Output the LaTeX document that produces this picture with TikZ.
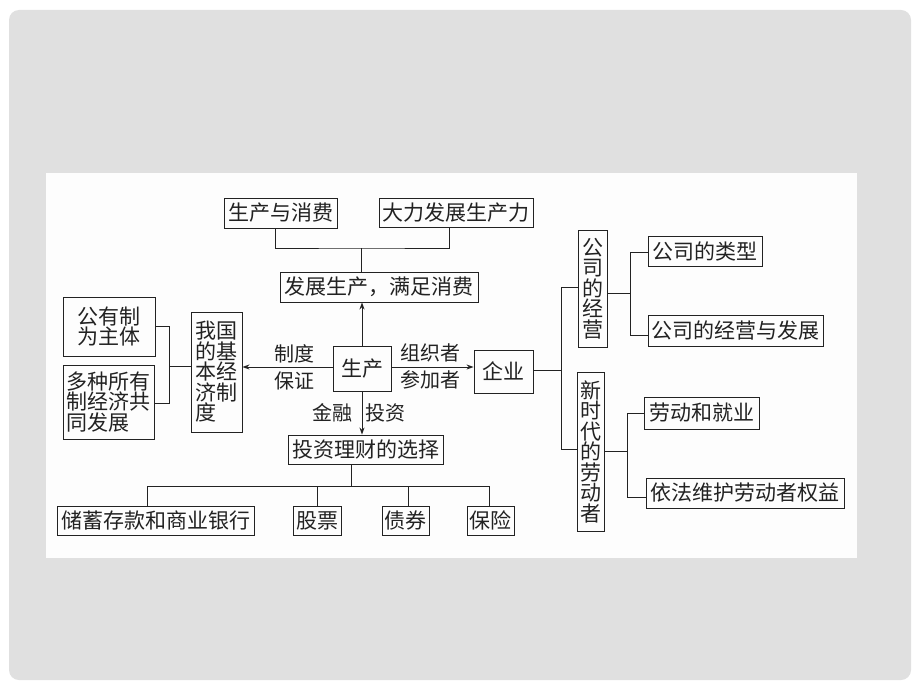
\documentclass[tikz,border=0pt]{standalone}
\usepackage{fontspec}
\setmainfont{Noto Sans CJK SC}
\newfontfamily\cjk{Noto Sans CJK SC}
\usetikzlibrary{arrows.meta}
\definecolor{bggray}{HTML}{E0E0E0}
\definecolor{panel}{HTML}{FDFDFD}
\definecolor{ink}{HTML}{222222}
\tikzset{
  box/.style={draw=ink, line width=0.9pt, inner sep=0pt, text=ink,
    font=\cjk\fontsize{21}{20.5}\selectfont, align=center},
  vbox/.style={box, text width=21pt},
  lbl/.style={inner sep=0pt, text=ink, font=\cjk\fontsize{20}{27}\selectfont, align=center},
  conn/.style={draw=ink, line width=0.9pt},
  arr/.style={conn, -{Stealth[length=7pt,width=5pt]}}
}
\begin{document}
\begin{tikzpicture}[x=1pt,y=-1pt]
\useasboundingbox (0,0) rectangle (920,690);
\fill[white] (0,0) rectangle (920,690);
\fill[bggray, rounded corners=10pt] (9,10) rectangle (911,680);
\fill[panel] (46,173) rectangle (857,558);

% top
\node[box, minimum width=113pt, minimum height=30pt] (sx) at (280.5,213) {生产与消费};
\node[box, minimum width=154pt, minimum height=29pt] (dl) at (456,212.5) {大力发展生产力};
\node[box, minimum width=198pt, minimum height=30pt] (fz) at (379,287) {发展生产，满足消费};
% centre
\node[box, minimum width=58pt, minimum height=45pt] (sc) at (362,368.5) {生产};
\node[box, minimum width=59pt, minimum height=43pt] (qy) at (503.5,371.5) {企业};
% left
\node[box, minimum width=51pt, minimum height=120pt, text width=42pt, align=left] (jb) at (216.5,372) {我国\\的基\\本经\\济制\\度};
\node[box, minimum width=92pt, minimum height=59pt] (gy) at (109,326.5) {公有制\\为主体};
\node[box, minimum width=91pt, minimum height=74pt, text width=84pt, align=left] (dz) at (108.5,402) {多种所有\\制经济共\\同发展};
% bottom
\node[box, minimum width=155pt, minimum height=29pt] (tz) at (365.5,449.5) {投资理财的选择};
\node[box, minimum width=197pt, minimum height=29pt] (cx) at (155.5,520.5) {储蓄存款和商业银行};
\node[box, minimum width=48pt, minimum height=29pt] (gp) at (317,520.5) {股票};
\node[box, minimum width=47pt, minimum height=29pt] (zq) at (405.5,520.5) {债券};
\node[box, minimum width=47pt, minimum height=29pt] (bx) at (490.5,520.5) {保险};
% right
\node[vbox, minimum width=29pt, minimum height=117pt] (gsjy) at (592.5,288.5) {公\\司\\的\\经\\营};
\node[box, minimum width=114pt, minimum height=30pt] (gslx) at (705,251) {公司的类型};
\node[box, minimum width=175pt, minimum height=31pt] (gsfz) at (735.5,330.5) {公司的经营与发展};
\node[vbox, minimum width=27pt, minimum height=159pt] (xsd) at (590.5,451.5) {新\\时\\代\\的\\劳\\动\\者};
\node[box, minimum width=115pt, minimum height=32pt] (ld) at (701.5,413) {劳动和就业};
\node[box, minimum width=198pt, minimum height=30pt] (yf) at (745,493) {依法维护劳动者权益};

% labels
\node[lbl] (zd) at (294,367.5) {制度\\保证};
\node[lbl] (zz) at (430,366.5) {组织者\\参加者};
\node[lbl] (jr) at (332,413) {金融};
\node[lbl] (tzl) at (385,413) {投资};

% connectors top
\coordinate (jt) at (361,248);
\draw[conn] (sx.south -| 275,0) |- (jt) -| (dl.south -| 449,0);
\draw[conn] (jt) -- (fz.north -| jt);
\draw[arr] (sc.north) -- (sc.north |- fz.south);
% centre arrows
\draw[arr] (sc.east |- 0,367) -- (qy.west |- 0,367);
\draw[arr] (sc.west |- 0,367) -- (jb.east |- 0,367);
\draw[arr] (sc.south) -- (sc.south |- tz.north);
% left bracket
\coordinate (jl) at (169,366);
\draw[conn] (gy.east |- 0,326) -| (169,403) -- (dz.east |- 0,403);
\draw[conn] (jl) -- (jb.west |- jl);
% bottom bus
\coordinate (jb1) at (351,486);
\draw[conn] (tz.south -| jb1) -- (jb1);
\draw[conn] (cx.north -| 147,0) |- (489,486) -- (bx.north -| 489,0);
\draw[conn] (317,486) -- (gp.north -| 317,0);
\draw[conn] (408,486) -- (zq.north -| 408,0);
% right brackets
\draw[conn] (qy.east |- 0,370) -- (561,370);
\draw[conn] (gsjy.west |- 0,287) -| (561,449) -- (xsd.west |- 0,449);
\draw[conn] (gsjy.east |- 0,293) -- (630,293);
\draw[conn] (gslx.west |- 0,252) -| (630,335) -- (gsfz.west |- 0,335);
\draw[conn] (xsd.east |- 0,451) -- (627,451);
\draw[conn] (ld.west |- 0,413) -| (627,497) -- (yf.west |- 0,497);
\end{tikzpicture}
\end{document}
